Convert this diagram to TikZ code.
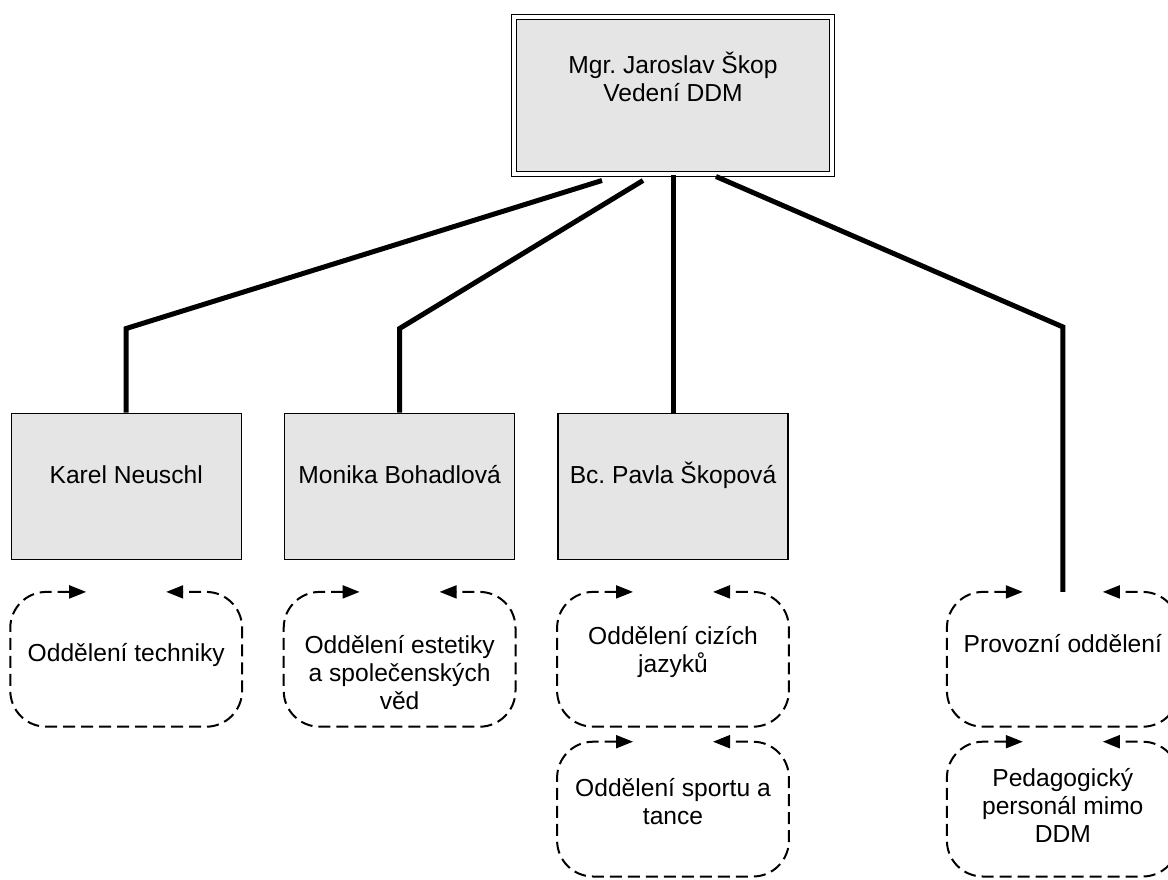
\documentclass[tikz,border=0pt]{standalone}
\usepackage{fontspec}
\setmainfont{Liberation Sans}
\usetikzlibrary{positioning}
\usetikzlibrary{shapes,arrows.meta}
\tikzstyle{headbox} = [rectangle, draw, line width=0.7pt, double, double distance=1.8pt,
    fill=gray!20, align=center, inner ysep=0pt, minimum width=158.8pt, minimum height=78.3pt,
    text height=42.3pt, text depth=36pt]
\tikzstyle{personbox} = [rectangle, draw, line width=0.7pt, fill=gray!20,
    align=center, inner ysep=0pt, minimum width=115pt, minimum height=73pt,
    text height=35.1pt, text depth=37.9pt]
\tikzstyle{deptbox} = [rectangle, align=center, inner ysep=0pt, minimum width=115.5pt,
    minimum height=67pt, text height=34.5pt, text depth=32.5pt]
\tikzstyle{tie} = [line width=2.5pt]
\tikzstyle{deptline} = [line width=1pt, dash pattern=on 6pt off 3pt, rounded corners=18pt,
    <->, >={Triangle[length=8.5pt,width=6.5pt]}]

\begin{document}
\begin{tikzpicture}
\fontsize{12.3pt}{14pt}\selectfont\frenchspacing
\useasboundingbox (0,0) rectangle (584pt,-439.5pt);

\node (jaroslav) [headbox] at (336.5pt,-47.75pt) {Mgr. Jaroslav Škop\\Vedení DDM};
\node (pavla) [personbox, below=119pt of jaroslav] {Bc. Pavla Škopová};
\node (monika) [personbox, left=21pt of pavla] {Monika Bohadlová};
\node (karel) [personbox, left=21pt of monika] {Karel Neuschl};
\node (techn) [deptbox, below=16pt of karel] {Oddělení techniky};
\node (estet) [deptbox, below=16pt of monika, text height=58.5pt, text depth=8.5pt] {Oddělení estetiky\\a společenských\\věd};
\node (cizi) [deptbox, below=16pt of pavla, text height=40pt, text depth=27pt] {Oddělení cizích\\jazyků};
\node (sport) [deptbox, below=7.5pt of cizi, text height=41pt, text depth=26pt] {Oddělení sportu a\\tance};
\node (provoz) [deptbox, right=79pt of cizi, text height=30pt, text depth=37pt] {Provozní oddělení};
\node (pedag) [deptbox, below=7.5pt of provoz, text height=50pt, text depth=17pt] {Pedagogický\\personál mimo\\DDM};
\node[coordinate] (bk) [above=42pt of karel] {};
\node[coordinate] (bm) [above=42pt of monika] {};
\node[coordinate] (bp) [above=132.5pt of provoz] {};

\draw [tie] ([xshift=-35.5pt,yshift=-3pt]jaroslav.south) -- (bk) -- (karel);
\draw [tie] ([xshift=-15pt,yshift=-3pt]jaroslav.south) -- (bm) -- (monika);
\draw [tie] (jaroslav) -- (pavla);
\draw [tie] ([xshift=21.5pt,yshift=-1pt]jaroslav.south) -- (bp) -- (provoz.north);

\draw [deptline] ([xshift=-20pt]techn.north) -- (techn.north west) -- (techn.south west) -- (techn.south east) -- (techn.north east) -- ([xshift=20pt]techn.north);
\draw [deptline] ([xshift=-20pt]estet.north) -- (estet.north west) -- (estet.south west) -- (estet.south east) -- (estet.north east) -- ([xshift=20pt]estet.north);
\draw [deptline] ([xshift=-20pt]cizi.north) -- (cizi.north west) -- (cizi.south west) -- (cizi.south east) -- (cizi.north east) -- ([xshift=20pt]cizi.north);
\draw [deptline] ([xshift=-20pt]sport.north) -- (sport.north west) -- (sport.south west) -- (sport.south east) -- (sport.north east) -- ([xshift=20pt]sport.north);
\draw [deptline] ([xshift=-20pt]provoz.north) -- (provoz.north west) -- (provoz.south west) -- (provoz.south east) -- (provoz.north east) -- ([xshift=20pt]provoz.north);
\draw [deptline] ([xshift=-20pt]pedag.north) -- (pedag.north west) -- (pedag.south west) -- (pedag.south east) -- (pedag.north east) -- ([xshift=20pt]pedag.north);

\end{tikzpicture}
\end{document}
